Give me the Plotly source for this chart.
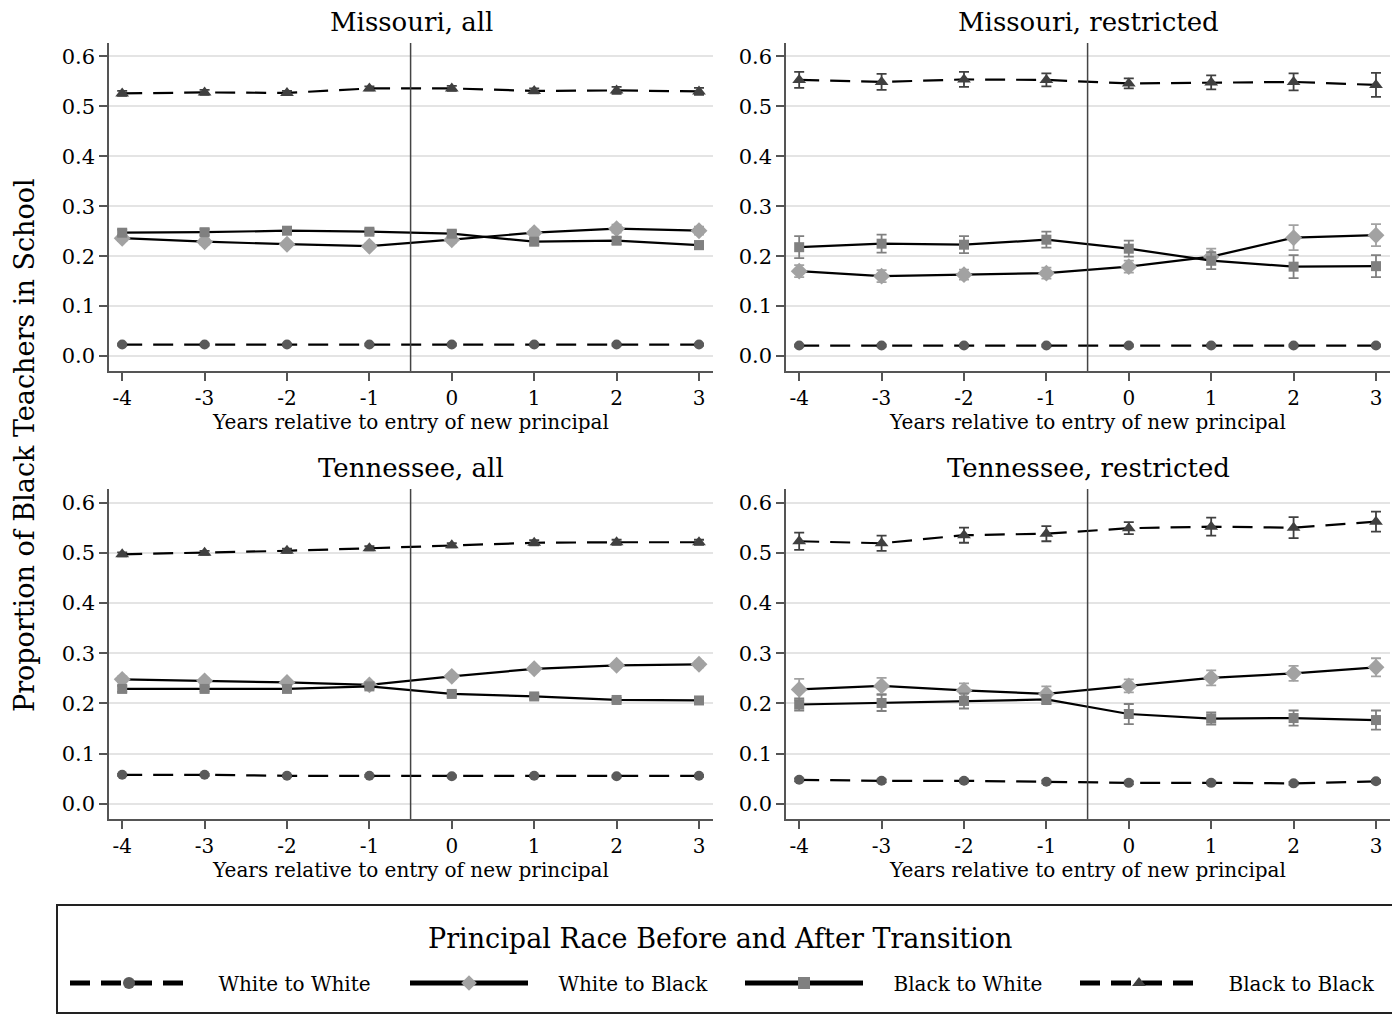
import plotly.graph_objects as go

years = [-4, -3, -2, -1, 0, 1, 2, 3]
series_names = ["White to White", "White to Black", "Black to White", "Black to Black"]
panel_titles = ["Missouri, all", "Missouri, restricted", "Tennessee, all", "Tennessee, restricted"]
y_ticks = [0.0, 0.1, 0.2, 0.3, 0.4, 0.5, 0.6]
y_tick_labels = ["0.0", "0.1", "0.2", "0.3", "0.4", "0.5", "0.6"]

# Missouri, all
mo_all_ww = [0.023, 0.023, 0.023, 0.023, 0.023, 0.023, 0.023, 0.023]
mo_all_ww_err = [0.002, 0.002, 0.002, 0.002, 0.002, 0.002, 0.002, 0.002]
mo_all_wb = [0.236, 0.229, 0.224, 0.220, 0.233, 0.247, 0.255, 0.251]
mo_all_wb_err = [0.006, 0.006, 0.005, 0.005, 0.006, 0.006, 0.008, 0.008]
mo_all_bw = [0.247, 0.248, 0.251, 0.249, 0.245, 0.229, 0.231, 0.222]
mo_all_bw_err = [0.006, 0.006, 0.005, 0.005, 0.006, 0.006, 0.007, 0.008]
mo_all_bb = [0.526, 0.528, 0.527, 0.536, 0.536, 0.531, 0.532, 0.530]
mo_all_bb_err = [0.005, 0.005, 0.004, 0.004, 0.005, 0.005, 0.007, 0.007]

# Missouri, restricted
mo_res_ww = [0.021, 0.021, 0.021, 0.021, 0.021, 0.021, 0.021, 0.021]
mo_res_ww_err = [0.002, 0.002, 0.002, 0.002, 0.002, 0.002, 0.002, 0.002]
mo_res_wb = [0.170, 0.160, 0.163, 0.166, 0.179, 0.199, 0.237, 0.242]
mo_res_wb_err = [0.012, 0.012, 0.010, 0.011, 0.012, 0.016, 0.025, 0.022]
mo_res_bw = [0.218, 0.225, 0.223, 0.233, 0.215, 0.191, 0.179, 0.180]
mo_res_bw_err = [0.022, 0.018, 0.017, 0.016, 0.016, 0.017, 0.023, 0.022]
mo_res_bb = [0.553, 0.549, 0.554, 0.553, 0.546, 0.548, 0.549, 0.543]
mo_res_bb_err = [0.016, 0.016, 0.015, 0.013, 0.010, 0.014, 0.017, 0.024]

# Tennessee, all
tn_all_ww = [0.058, 0.058, 0.056, 0.056, 0.055, 0.056, 0.055, 0.056]
tn_all_ww_err = [0.002, 0.002, 0.002, 0.002, 0.002, 0.002, 0.002, 0.002]
tn_all_wb = [0.248, 0.245, 0.242, 0.237, 0.254, 0.269, 0.276, 0.278]
tn_all_wb_err = [0.006, 0.005, 0.005, 0.005, 0.005, 0.005, 0.005, 0.006]
tn_all_bw = [0.229, 0.229, 0.229, 0.234, 0.219, 0.214, 0.207, 0.206]
tn_all_bw_err = [0.006, 0.005, 0.005, 0.005, 0.005, 0.005, 0.004, 0.005]
tn_all_bb = [0.497, 0.500, 0.504, 0.509, 0.515, 0.520, 0.521, 0.521]
tn_all_bb_err = [0.004, 0.004, 0.004, 0.004, 0.004, 0.005, 0.005, 0.005]

# Tennessee, restricted
tn_res_ww = [0.048, 0.046, 0.046, 0.044, 0.042, 0.042, 0.041, 0.045]
tn_res_ww_err = [0.003, 0.003, 0.003, 0.003, 0.003, 0.003, 0.003, 0.003]
tn_res_wb = [0.228, 0.235, 0.226, 0.219, 0.235, 0.251, 0.260, 0.272]
tn_res_wb_err = [0.021, 0.016, 0.014, 0.015, 0.013, 0.015, 0.015, 0.018]
tn_res_bw = [0.198, 0.201, 0.205, 0.208, 0.179, 0.170, 0.171, 0.167]
tn_res_bw_err = [0.012, 0.016, 0.015, 0.009, 0.020, 0.012, 0.015, 0.019]
tn_res_bb = [0.523, 0.519, 0.535, 0.538, 0.549, 0.552, 0.550, 0.562]
tn_res_bb_err = [0.017, 0.015, 0.015, 0.015, 0.012, 0.018, 0.021, 0.020]

panels = [
    [(mo_all_ww, mo_all_ww_err), (mo_all_wb, mo_all_wb_err), (mo_all_bw, mo_all_bw_err), (mo_all_bb, mo_all_bb_err)],
    [(mo_res_ww, mo_res_ww_err), (mo_res_wb, mo_res_wb_err), (mo_res_bw, mo_res_bw_err), (mo_res_bb, mo_res_bb_err)],
    [(tn_all_ww, tn_all_ww_err), (tn_all_wb, tn_all_wb_err), (tn_all_bw, tn_all_bw_err), (tn_all_bb, tn_all_bb_err)],
    [(tn_res_ww, tn_res_ww_err), (tn_res_wb, tn_res_wb_err), (tn_res_bw, tn_res_bw_err), (tn_res_bb, tn_res_bb_err)],
]

W, H = 1400, 1015
OFF = 8  # page body margin
FONT = "DejaVu Serif"
NBSP = "\u00a0"


def px(v):
    return v - OFF


styles = [
    dict(dash="20px,11px", symbol="circle", color="#5a5a5a", size=10),
    dict(dash="solid", symbol="diamond", color="#a2a2a2", size=13),
    dict(dash="solid", symbol="square", color="#808080", size=10),
    dict(dash="20px,11px", symbol="triangle-up", color="#404040", size=12),
]
legend_ids = ["legend", "legend2", "legend3", "legend4"]
legend_symbol_starts = [70, 410, 745, 1080]

# panel pixel boxes in the screenshot (left, right, top, bottom)
boxes = [(109, 713, 43, 371), (786, 1390, 43, 371), (109, 713, 489, 819), (786, 1390, 489, 819)]

fig = go.Figure()
for p, series in enumerate(panels):
    xa = "x" if p == 0 else f"x{p+1}"
    ya = "y" if p == 0 else f"y{p+1}"
    for s, (vals, errs) in enumerate(series):
        st = styles[s]
        fig.add_trace(go.Scatter(
            x=years, y=vals, xaxis=xa, yaxis=ya,
            mode="lines+markers", name=NBSP * 4 + series_names[s],
            legend=legend_ids[s], showlegend=(p == 0),
            line=dict(color="black", width=2.2, dash=st["dash"]),
            marker=dict(symbol=st["symbol"], color=st["color"], size=st["size"],
                        line=dict(width=0)),
            error_y=dict(type="data", array=errs, visible=True,
                         color=st["color"], thickness=1.8, width=5),
        ))

layout = dict(
    width=W, height=H, paper_bgcolor="white", plot_bgcolor="white",
    margin=dict(l=0, r=0, t=0, b=0),
    font=dict(family=FONT, color="black", size=20),
    showlegend=True,
)

for p, (l, r, t, b) in enumerate(boxes):
    xk = "xaxis" if p == 0 else f"xaxis{p+1}"
    yk = "yaxis" if p == 0 else f"yaxis{p+1}"
    yref = "y" if p == 0 else f"y{p+1}"
    xref = "x" if p == 0 else f"x{p+1}"
    layout[xk] = dict(
        domain=[px(l) / W, px(r) / W], anchor=yref, range=[-4.16, 3.17],
        tickmode="array", tickvals=years, ticktext=[str(v) for v in years],
        ticks="outside", ticklen=8, tickwidth=1.5, tickcolor="#555",
        showline=True, linecolor="#555", linewidth=1.5, showgrid=False, zeroline=False,
        tickfont=dict(family=FONT, size=20, color="black"),
        title=dict(text="Years relative to entry of new principal",
                   font=dict(family=FONT, size=20, color="black"), standoff=2),
    )
    layout[yk] = dict(
        domain=[1 - px(b) / H, 1 - px(t) / H], anchor=xref, range=[-0.03, 0.627],
        tickmode="array", tickvals=y_ticks, ticktext=y_tick_labels,
        ticks="outside", ticklen=8, tickwidth=1.5, tickcolor="#555",
        showline=True, linecolor="#555", linewidth=1.5,
        showgrid=True, gridcolor="#e4e4e4", gridwidth=1.5, zeroline=False,
        tickfont=dict(family=FONT, size=21, color="black"),
    )

for i, lid in enumerate(legend_ids):
    layout[lid] = dict(
        orientation="h", x=px(legend_symbol_starts[i] - 5) / W, y=1 - px(983) / H,
        xanchor="left", yanchor="middle", itemwidth=118, itemsizing="constant",
        font=dict(family=FONT, size=20, color="black"),
        bgcolor="rgba(0,0,0,0)", borderwidth=0,
    )

fig.update_layout(**layout)

annotations = []
for p, (l, r, t, b) in enumerate(boxes):
    annotations.append(dict(
        text=panel_titles[p], x=px((l + r) / 2) / W, y=1 - px(t - 21) / H,
        xref="paper", yref="paper", showarrow=False, xanchor="center", yanchor="middle",
        font=dict(family=FONT, size=26, color="black"),
    ))
    xref = "x" if p == 0 else f"x{p+1}"
    yref = "y" if p == 0 else f"y{p+1}"
    fig.add_shape(type="line", x0=-0.5, x1=-0.5, y0=0, y1=1, xref=xref,
                  yref=f"{yref} domain", line=dict(color="#444", width=1.5))

annotations.append(dict(
    text="Proportion of Black Teachers in School", x=px(25) / W, y=1 - px(445) / H,
    xref="paper", yref="paper", showarrow=False, textangle=-90,
    xanchor="center", yanchor="middle", font=dict(family=FONT, size=27, color="black"),
))
annotations.append(dict(
    text="Principal Race Before and After Transition", x=px(720) / W, y=1 - px(938) / H,
    xref="paper", yref="paper", showarrow=False, xanchor="center", yanchor="middle",
    font=dict(family=FONT, size=27, color="black"),
))
fig.update_layout(annotations=annotations)

# legend frame
fig.add_shape(type="rect", xref="paper", yref="paper",
              x0=px(57) / W, x1=px(1398) / W, y0=1 - px(1013) / H, y1=1 - px(905) / H,
              line=dict(color="#222", width=2), fillcolor="rgba(0,0,0,0)")

fig.write_html("out.html")
